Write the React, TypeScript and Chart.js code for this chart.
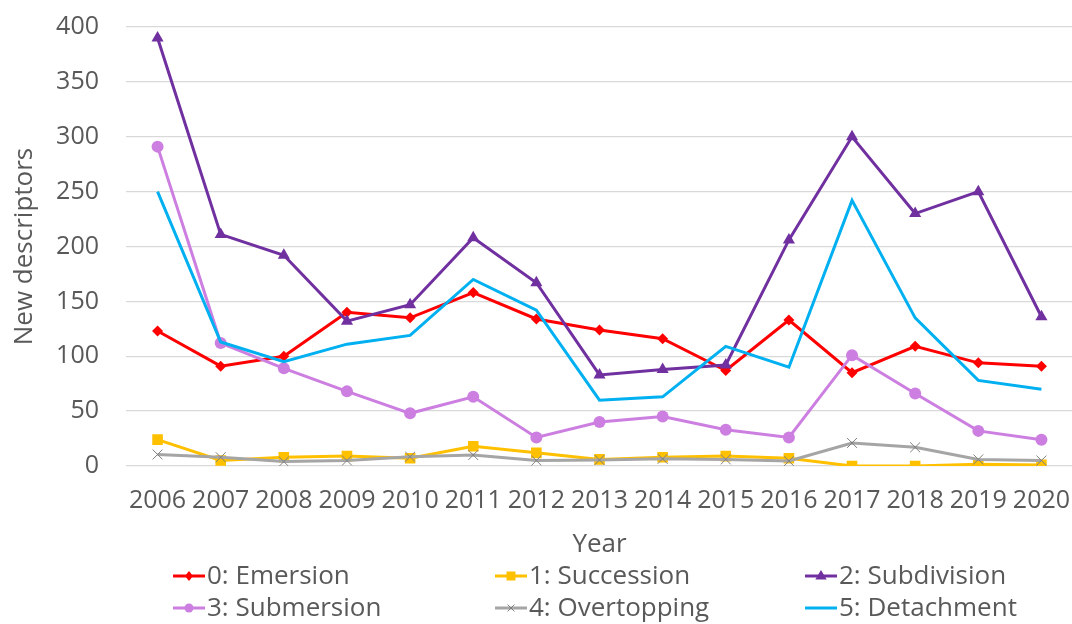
import React, { useEffect, useRef } from "react";
import { Chart, registerables } from "chart.js";

Chart.register(...registerables);

const years = ["2006", "2007", "2008", "2009", "2010", "2011", "2012", "2013", "2014", "2015", "2016", "2017", "2018", "2019", "2020"];

const emersion = [123, 91, 100, 140, 135, 158, 134, 124, 116, 87, 133, 85, 109, 94, 91];
const succession = [24, 5, 8, 9, 7, 18, 12, 6, 8, 9, 7, 0, 0, 1.5, 1];
const subdivision = [390, 211, 192, 132, 147, 208, 167, 83, 88, 92, 206, 300, 230, 250, 136];
const submersion = [291, 112, 89, 68, 48, 63, 26, 40, 45, 33, 26, 101, 66, 32, 24];
const overtopping = [10.5, 8, 4, 5, 8.5, 10, 5, 5.5, 6.5, 6, 4.5, 21, 17, 6, 5];
const detachment = [250, 113, 95, 111, 119, 170, 142, 60, 63, 109, 90, 242, 135, 78, 70];

const seriesNames = ["0: Emersion", "1: Succession", "2: Subdivision", "3: Submersion", "4: Overtopping", "5: Detachment"];
const yTicks = [0, 50, 100, 150, 200, 250, 300, 350, 400];

const FONT = "'Open Sans', sans-serif";
const TEXT = "#595959";

type Style = { color: string; point: string; radius: number; pointColor: string; legendRadius: number };
const styles: Style[] = [
  { color: "#FF0000", point: "rectRot", radius: 5.5, pointColor: "#FF0000", legendRadius: 5 },
  { color: "#FFC000", point: "rect", radius: 7.5, pointColor: "#FFC000", legendRadius: 6 },
  { color: "#7030A0", point: "triangle", radius: 7, pointColor: "#7030A0", legendRadius: 6 },
  { color: "#CC7FE0", point: "circle", radius: 6, pointColor: "#CC7FE0", legendRadius: 4.5 },
  { color: "#A5A5A5", point: "crossRot", radius: 7, pointColor: "#7F7F7F", legendRadius: 5 },
  { color: "#00B0F0", point: "circle", radius: 0, pointColor: "#00B0F0", legendRadius: 0 },
];

const legendCols = [173, 495, 805];
const legendRows = [576, 608];

function drawMarker(ctx: CanvasRenderingContext2D, s: Style, x: number, y: number) {
  const r = s.legendRadius;
  if (r <= 0) return;
  ctx.save();
  ctx.fillStyle = s.pointColor;
  ctx.strokeStyle = s.pointColor;
  ctx.lineWidth = 1;
  ctx.beginPath();
  if (s.point === "rectRot") {
    ctx.moveTo(x, y - r);
    ctx.lineTo(x + r * 0.8, y);
    ctx.lineTo(x, y + r);
    ctx.lineTo(x - r * 0.8, y);
    ctx.closePath();
    ctx.fill();
  } else if (s.point === "rect") {
    ctx.rect(x - r * 0.75, y - r * 0.75, r * 1.5, r * 1.5);
    ctx.fill();
  } else if (s.point === "triangle") {
    ctx.moveTo(x, y - r);
    ctx.lineTo(x + r * 0.95, y + r * 0.6);
    ctx.lineTo(x - r * 0.95, y + r * 0.6);
    ctx.closePath();
    ctx.fill();
  } else if (s.point === "circle") {
    ctx.arc(x, y, r, 0, Math.PI * 2);
    ctx.fill();
  } else if (s.point === "crossRot") {
    const d = r * 0.7;
    ctx.moveTo(x - d, y - d);
    ctx.lineTo(x + d, y + d);
    ctx.moveTo(x + d, y - d);
    ctx.lineTo(x - d, y + d);
    ctx.stroke();
  }
  ctx.restore();
}

const legendPlugin = {
  id: "customLegend",
  afterDraw(chart: any) {
    const ctx: CanvasRenderingContext2D = chart.ctx;
    ctx.save();
    ctx.font = `26px ${FONT}`;
    ctx.textBaseline = "middle";
    ctx.textAlign = "left";
    seriesNames.forEach((name, i) => {
      const col = i % 3;
      const row = Math.floor(i / 3);
      const x = legendCols[col];
      const y = legendRows[row];
      const s = styles[i];
      ctx.strokeStyle = s.color;
      ctx.lineWidth = 3;
      ctx.beginPath();
      ctx.moveTo(x, y);
      ctx.lineTo(x + 32, y);
      ctx.stroke();
      drawMarker(ctx, s, x + 16, y);
      ctx.fillStyle = TEXT;
      ctx.fillText(name, x + 34, y + 1);
    });
    ctx.restore();
  },
};

export default function App() {
  const ref = useRef<HTMLCanvasElement | null>(null);

  useEffect(() => {
    if (!ref.current) return;
    const seriesData = [emersion, succession, subdivision, submersion, overtopping, detachment];
    const chart = new Chart(ref.current, {
      type: "line",
      data: {
        labels: years,
        datasets: seriesData.map((d, i) => ({
          label: seriesNames[i],
          data: d,
          borderColor: styles[i].color,
          backgroundColor: styles[i].pointColor,
          borderWidth: 3,
          pointStyle: styles[i].point as any,
          pointRadius: styles[i].radius,
          pointBackgroundColor: styles[i].pointColor,
          pointBorderColor: styles[i].pointColor,
          pointBorderWidth: i === 4 ? 1 : 0,
          tension: 0,
          fill: false,
          order: 5 - i,
        })),
      },
      options: {
        responsive: false,
        animation: false,
        layout: { padding: { top: 27, left: 0, right: 0, bottom: 0 } },
        plugins: {
          legend: { display: false },
          tooltip: { enabled: false },
        },
        scales: {
          x: {
            offset: true,
            grid: { display: false, drawTicks: false },
            border: { display: false },
            ticks: {
              color: TEXT,
              font: { family: FONT, size: 25 },
              padding: 20,
              autoSkip: false,
              maxRotation: 0,
              minRotation: 0,
            },
            title: {
              display: true,
              text: "Year",
              color: TEXT,
              font: { family: FONT, size: 26 },
              padding: { top: 0, bottom: 64 },
            },
            afterFit: (scale: any) => {
              scale.height = 158;
              scale.paddingLeft = 0;
              scale.paddingRight = 0;
            },
          },
          y: {
            min: 0,
            max: 400,
            afterBuildTicks: (scale: any) => {
              scale.ticks = yTicks.map((v) => ({ value: v }));
            },
            grid: { color: "#D9D9D9", lineWidth: 1.3, drawTicks: false },
            border: { display: false },
            ticks: {
              color: TEXT,
              font: { family: FONT, size: 25 },
              padding: 27,
            },
            title: {
              display: true,
              text: "New descriptors",
              color: TEXT,
              font: { family: FONT, size: 26 },
              padding: { top: 9, bottom: 0 },
            },
            afterFit: (scale: any) => {
              scale.width = 126;
              scale.paddingTop = 0;
              scale.paddingBottom = 0;
            },
          },
        },
      },
      plugins: [legendPlugin],
    });
    return () => chart.destroy();
  }, []);

  return (
    <div style={{ position: "absolute", left: 0, top: 0, width: 1072, height: 624, overflow: "hidden", background: "#fff" }}>
      <canvas ref={ref} width={1081} height={624} style={{ display: "block" }} />
    </div>
  );
}
